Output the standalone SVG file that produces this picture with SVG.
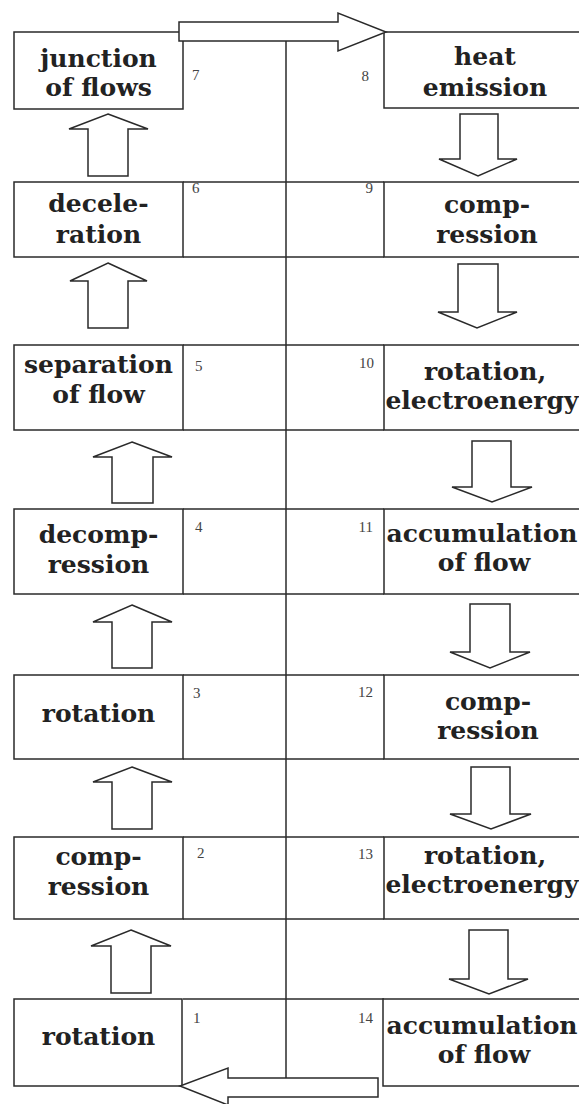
<svg xmlns="http://www.w3.org/2000/svg" width="579" height="1104" viewBox="0 0 579 1104">
<defs>
<style>
.box{fill:#fff;stroke:#2a2a2a;stroke-width:1.5}
.ln{stroke:#2a2a2a;stroke-width:1.5;fill:none}
.arr{fill:#fff;stroke:#2a2a2a;stroke-width:1.5;stroke-linejoin:miter}
.lbl{font-family:"DejaVu Serif","Liberation Serif",serif;font-weight:bold;font-size:25px;fill:#222;text-anchor:middle}
.num{font-family:"Liberation Serif","DejaVu Serif",serif;font-size:15px;fill:#444}
.nr{text-anchor:end}
</style>
</defs>
<rect width="579" height="1104" fill="#fff"/>
<g id="grid">
<line class="ln" x1="286" y1="41" x2="286" y2="1078"/>
<line class="ln" x1="183" y1="182" x2="384" y2="182"/>
<line class="ln" x1="183" y1="257" x2="384" y2="257"/>
<line class="ln" x1="183" y1="345" x2="384" y2="345"/>
<line class="ln" x1="183" y1="430" x2="384" y2="430"/>
<line class="ln" x1="183" y1="509" x2="384" y2="509"/>
<line class="ln" x1="183" y1="594" x2="384" y2="594"/>
<line class="ln" x1="183" y1="675" x2="384" y2="675"/>
<line class="ln" x1="183" y1="759" x2="384" y2="759"/>
<line class="ln" x1="183" y1="837" x2="384" y2="837"/>
<line class="ln" x1="183" y1="919" x2="384" y2="919"/>
<line class="ln" x1="183" y1="999" x2="384" y2="999"/>
</g>
<g id="node7"><rect class="box" x="14" y="32" width="169" height="77"/><text class="lbl" x="98.5" y="67">junction</text><text class="lbl" x="98.5" y="96">of flows</text><text class="num" x="192" y="80">7</text></g>
<g id="node8"><rect class="box" x="384" y="32" width="210" height="76"/><text class="lbl" x="485" y="65">heat</text><text class="lbl" x="485" y="96">emission</text><text class="num nr" x="369" y="81">8</text></g>
<g id="node6"><rect class="box" x="14" y="182" width="169" height="75"/><text class="lbl" x="98.5" y="212">decele-</text><text class="lbl" x="98.5" y="243">ration</text><text class="num" x="192" y="193">6</text></g>
<g id="node9"><rect class="box" x="384" y="182" width="210" height="75"/><text class="lbl" x="487" y="213">comp-</text><text class="lbl" x="487" y="243">ression</text><text class="num nr" x="373" y="193">9</text></g>
<g id="node5"><rect class="box" x="14" y="345" width="169" height="85"/><text class="lbl" x="98.5" y="373">separation</text><text class="lbl" x="98.5" y="403">of flow</text><text class="num" x="195" y="371">5</text></g>
<g id="node10"><rect class="box" x="384" y="345" width="210" height="85"/><text class="lbl" x="485" y="380">rotation,</text><text class="lbl" x="482" y="409">electroenergy</text><text class="num nr" x="374" y="368">10</text></g>
<g id="node4"><rect class="box" x="14" y="509" width="169" height="85"/><text class="lbl" x="98.5" y="543">decomp-</text><text class="lbl" x="98.5" y="573">ression</text><text class="num" x="195" y="532">4</text></g>
<g id="node11"><rect class="box" x="384" y="509" width="210" height="85"/><text class="lbl" x="482" y="542">accumulation</text><text class="lbl" x="484" y="571">of flow</text><text class="num nr" x="373" y="532">11</text></g>
<g id="node3"><rect class="box" x="14" y="675" width="169" height="84"/><text class="lbl" x="98.5" y="722">rotation</text><text class="num" x="193" y="698">3</text></g>
<g id="node12"><rect class="box" x="384" y="675" width="210" height="84"/><text class="lbl" x="488" y="710">comp-</text><text class="lbl" x="488" y="739">ression</text><text class="num nr" x="373" y="697">12</text></g>
<g id="node2"><rect class="box" x="14" y="837" width="169" height="82"/><text class="lbl" x="98.5" y="865">comp-</text><text class="lbl" x="98.5" y="895">ression</text><text class="num" x="197" y="858">2</text></g>
<g id="node13"><rect class="box" x="384" y="837" width="210" height="82"/><text class="lbl" x="485" y="864">rotation,</text><text class="lbl" x="482" y="893">electroenergy</text><text class="num nr" x="373" y="859">13</text></g>
<g id="node1"><rect class="box" x="14" y="999" width="168" height="87"/><text class="lbl" x="98.5" y="1045">rotation</text><text class="num" x="193" y="1023">1</text></g>
<g id="node14"><rect class="box" x="383" y="999" width="211" height="87"/><text class="lbl" x="482" y="1034">accumulation</text><text class="lbl" x="484" y="1063">of flow</text><text class="num nr" x="373" y="1023">14</text></g>
<g id="connectors">
<path class="arr" d="M179,22 L338,22 L338,13 L386,32 L338,51 L338,41 L179,41 Z"/>
<path class="arr" d="M378,1078 L228,1078 L228,1068 L180,1086 L228,1105 L228,1097 L378,1097 Z"/>
<path class="arr" d="M108,114 L148,129 L128,129 L128,176 L88,176 L88,129 L69,129 Z"/>
<path class="arr" d="M108,263 L147,281 L128,281 L128,328 L88,328 L88,281 L70,281 Z"/>
<path class="arr" d="M132,442 L172,457 L153,457 L153,503 L112,503 L112,457 L93,457 Z"/>
<path class="arr" d="M132,605 L172,622 L152,622 L152,668 L112,668 L112,622 L93,622 Z"/>
<path class="arr" d="M132,767 L172,782 L152,782 L152,829 L112,829 L112,782 L93,782 Z"/>
<path class="arr" d="M131,930 L171,946 L151,946 L151,993 L111,993 L111,946 L91,946 Z"/>
<path class="arr" d="M460,114 L498,114 L498,159 L517,159 L478,176 L439,159 L460,159 Z"/>
<path class="arr" d="M458,264 L498,264 L498,312 L517,312 L477,328 L438,312 L458,312 Z"/>
<path class="arr" d="M472,441 L511,441 L511,487 L532,487 L492,502 L452,487 L472,487 Z"/>
<path class="arr" d="M470,604 L510,604 L510,652 L530,652 L490,668 L450,652 L470,652 Z"/>
<path class="arr" d="M471,767 L510,767 L510,814 L531,814 L491,829 L450,814 L471,814 Z"/>
<path class="arr" d="M469,930 L508,930 L508,979 L528,979 L489,994 L449,979 L469,979 Z"/>
</g>
</svg>
